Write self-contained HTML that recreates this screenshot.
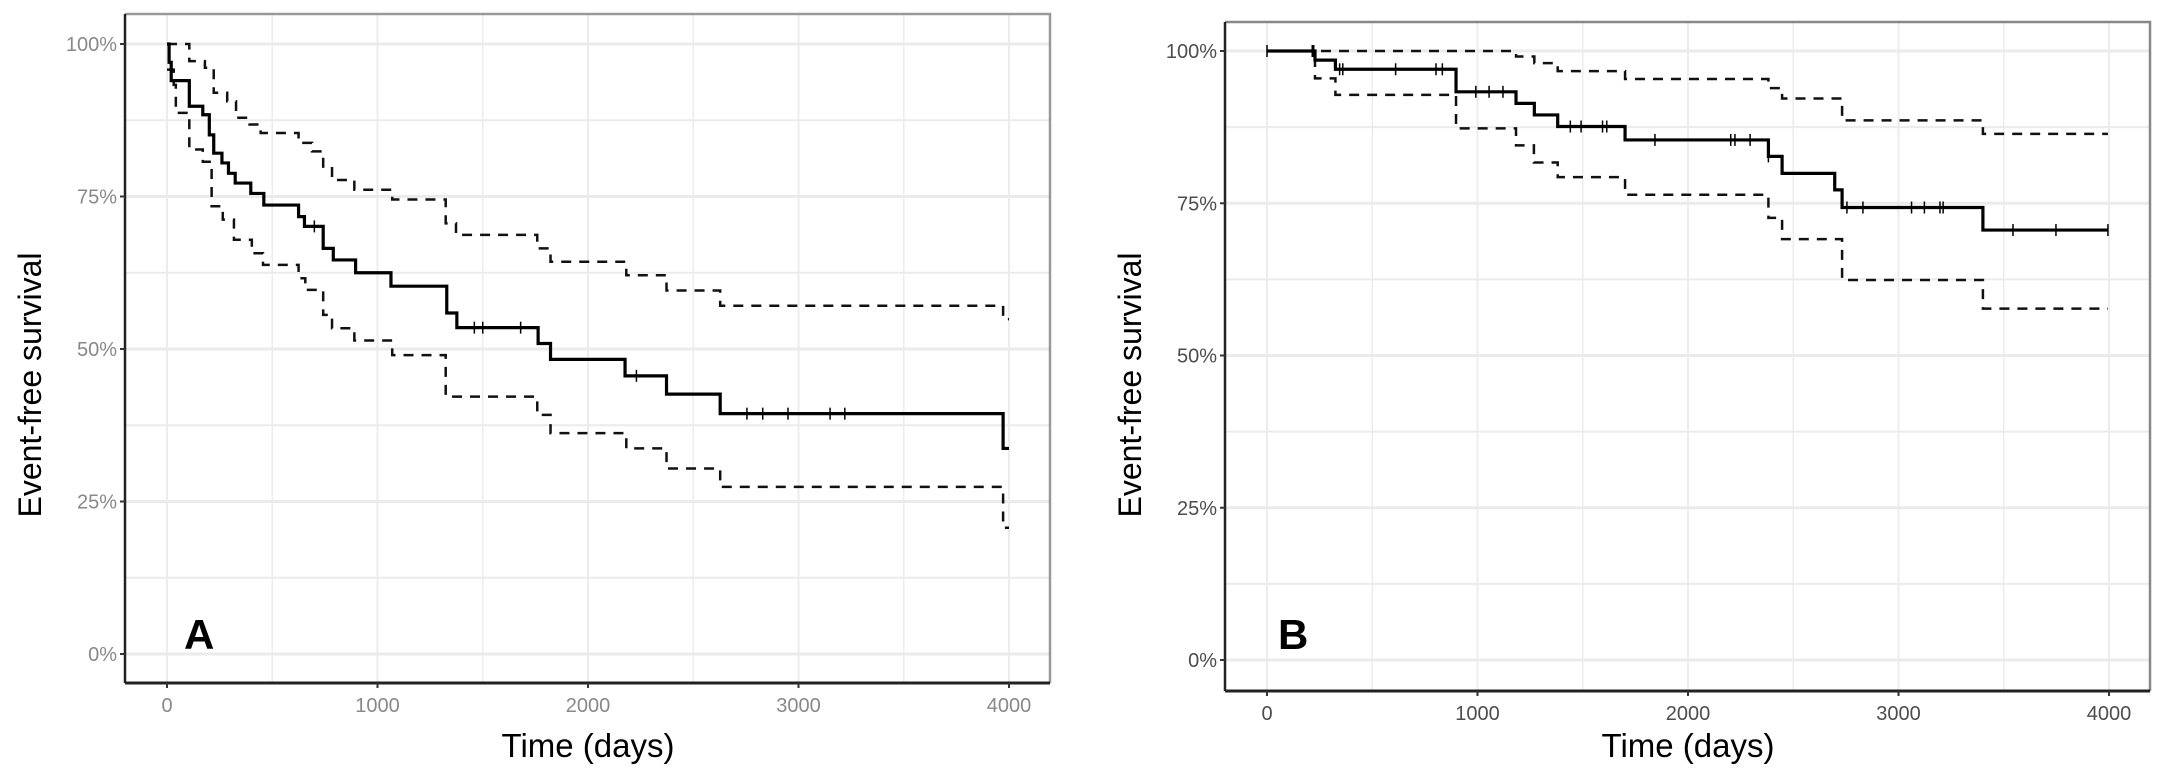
<!DOCTYPE html>
<html><head><meta charset="utf-8"><style>
html,body{margin:0;padding:0;background:#fff;}
svg{display:block;font-family:"Liberation Sans",sans-serif;}
</style></head><body>
<svg id="chart" width="2170" height="774" viewBox="0 0 2170 774" xmlns="http://www.w3.org/2000/svg"></svg>
<script>
// Panel A data
const aMainT=[0,10,20,106,170,201,222,261,292,324,398,460,625,653,742,790,896,1064,1329,1377,1763,1822,2176,2373,2628,3972,4000];
const aMainV=[100,97,94,89.8,88.4,85.1,82.1,80.5,78.8,77.2,75.5,73.6,71.7,70.1,66.5,64.6,62.5,60.3,55.9,53.5,50.9,48.3,45.6,42.6,39.4,33.7,33.7];
const aUpT=[0,106,180,222,286,328,392,445,625,689,742,784,890,1070,1324,1373,1759,1822,2182,2373,2628,3972,4000];
const aUpV=[100,97.2,96.1,92.0,90.6,87.9,86.8,85.4,83.8,82.4,79.9,77.7,76.1,74.5,70.6,68.7,66.5,64.3,62.1,59.6,57.1,54.9,54.9];
const aLoT=[0,32,42,106,170,212,265,318,403,456,625,657,742,784,890,1070,1324,1759,1822,2182,2373,2628,3972,4000];
const aLoV=[95.8,93.3,88.7,82.7,80.7,73.4,71.2,67.9,65.7,63.8,61.6,59.7,55.6,53.4,51.4,49.0,42.2,39.2,36.2,33.7,30.4,27.4,20.7,20.7];
const aCens=[700,1460,1500,1680,2230,2755,2830,2950,3150,3220];
// Panel B data
const bMainT=[0,228,325,898,1183,1270,1381,1701,2382,2447,2697,2732,3401,3995];
const bMainV=[100,98.5,97,93.3,91.4,89.5,87.6,85.4,82.7,79.9,77.2,74.3,70.6,70.6];
const bUpT=[0,1183,1270,1381,1701,2382,2447,2732,3401,3995];
const bUpV=[100,99.1,98.0,96.7,95.4,93.9,92.2,88.6,86.4,86.4];
const bLoT=[0,228,325,898,1183,1268,1381,1701,2382,2447,2732,3401,3995];
const bLoV=[100,95.5,92.8,87.3,84.5,81.7,79.3,76.4,72.6,69.1,62.4,57.7,57.7];
const bCens=[0,215,222,345,360,611,803,833,992,1055,1121,1441,1492,1594,1614,1843,2203,2223,2295,2382,2755,2831,3062,3123,3197,3212,3544,3748,3995];
const xTicks=[0,1000,2000,3000,4000];
const yTicks=[0,25,50,75,100];
const yTickLabels=["0%","25%","50%","75%","100%"];

const NS="http://www.w3.org/2000/svg";
const svg=document.getElementById('chart');
function mk(tag,attrs,parent){const e=document.createElementNS(NS,tag);for(const k in attrs)e.setAttribute(k,attrs[k]);(parent||svg).appendChild(e);return e;}

function panel(cfg){
  const g=mk('g',{});
  
  
  const X=t=>cfg.x0+(cfg.x4000-cfg.x0)*t/4000;
  const Y=v=>cfg.y0+(cfg.y100-cfg.y0)*v/100;
  for(let t=0;t<=4000;t+=500){const l=mk('line',{x1:X(t),x2:X(t),y1:cfg.top,y2:cfg.bottom,stroke:'#ececec','stroke-width':t%1000?1.5:2},g);
    }
  for(let v=0;v<=100;v+=12.5){const l=mk('line',{x1:cfg.left,x2:cfg.right,y1:Y(v),y2:Y(v),stroke:'#ebebeb','stroke-width':v%25?2:3},g);
    }
  const fr=mk('path',{d:`M${cfg.left},${cfg.top}H${cfg.right}V${cfg.bottom}`,fill:'none',stroke:cfg.frame,'stroke-width':2.5},g);
  
  const ya=mk('line',{x1:cfg.left,x2:cfg.left,y1:cfg.top,y2:cfg.bottom,stroke:'#222','stroke-width':2.5},g);
  
  const xa=mk('line',{x1:cfg.left,x2:cfg.right,y1:cfg.bottom,y2:cfg.bottom,stroke:'#222','stroke-width':3},g);
  
  yTicks.forEach((v,i)=>{
    mk('line',{x1:cfg.left-5,x2:cfg.left,y1:Y(v),y2:Y(v),stroke:'#333','stroke-width':2},g);
    const t=mk('text',{x:cfg.left-8,y:Y(v)+7,'text-anchor':'end','font-size':20,fill:cfg.tickColor},g);
    
    t.textContent=yTickLabels[i];
  });
  xTicks.forEach(v=>{
    mk('line',{x1:X(v),x2:X(v),y1:cfg.bottom,y2:cfg.bottom+5,stroke:'#333','stroke-width':2},g);
    const t=mk('text',{x:X(v),y:cfg.bottom+29,'text-anchor':'middle','font-size':20,fill:cfg.tickColor},g);
    
    t.textContent=String(v);
  });
  const xt=mk('text',{x:(X(0)+X(4000))/2,y:757,'text-anchor':'middle','font-size':33,fill:'#000'},g);
  
  xt.textContent='Time (days)';
  const yt=mk('text',{x:0,y:0,'text-anchor':'middle','font-size':32,fill:'#000',transform:`translate(${cfg.ytX},${cfg.ytY}) rotate(-90)`},g);
  
  yt.textContent='Event-free survival';
  const lt=mk('text',{x:cfg.letterX,y:649,'font-size':42,'font-weight':'bold',fill:'#000'},g);
  
  lt.textContent=cfg.letter;
  function step(T,V){let d=`M${X(T[0])},${Y(V[0])}`;for(let i=1;i<T.length;i++){d+=`H${X(T[i])}V${Y(V[i])}`;}return d;}
  const up=mk('path',{d:step(cfg.upT,cfg.upV),fill:'none',stroke:'#111','stroke-width':2.5,'stroke-dasharray':'10,8'},g);
  
  const lo=mk('path',{d:step(cfg.loT,cfg.loV),fill:'none',stroke:'#111','stroke-width':2.5,'stroke-dasharray':'10,8'},g);
  
  const mn=mk('path',{d:step(cfg.mT,cfg.mV),fill:'none',stroke:'#000','stroke-width':3.2},g);
  
  const valAt=t=>{let v=cfg.mV[0];for(let i=0;i<cfg.mT.length;i++){if(cfg.mT[i]<=t)v=cfg.mV[i];}return v;};
  cfg.cens.forEach(t=>{const c=mk('line',{x1:X(t),x2:X(t),y1:Y(valAt(t))-6,y2:Y(valAt(t))+6,stroke:'#000','stroke-width':1.5},g);
    });
}

panel({name:'panel-a',x0:167,x4000:1009,y0:654,y100:44,left:125,right:1050,top:14,bottom:683,frame:'#999',tickColor:'#888',
  ytX:41,ytY:385,letter:'A',letterX:184,mT:aMainT,mV:aMainV,upT:aUpT,upV:aUpV,loT:aLoT,loV:aLoV,cens:aCens});
panel({name:'panel-b',x0:1267,x4000:2109,y0:660,y100:51,left:1225,right:2150,top:22,bottom:691,frame:'#888',tickColor:'#4d4d4d',
  ytX:1141,ytY:385,letter:'B',letterX:1278,mT:bMainT,mV:bMainV,upT:bUpT,upV:bUpV,loT:bLoT,loV:bLoV,cens:bCens});
</script>
</body></html>
